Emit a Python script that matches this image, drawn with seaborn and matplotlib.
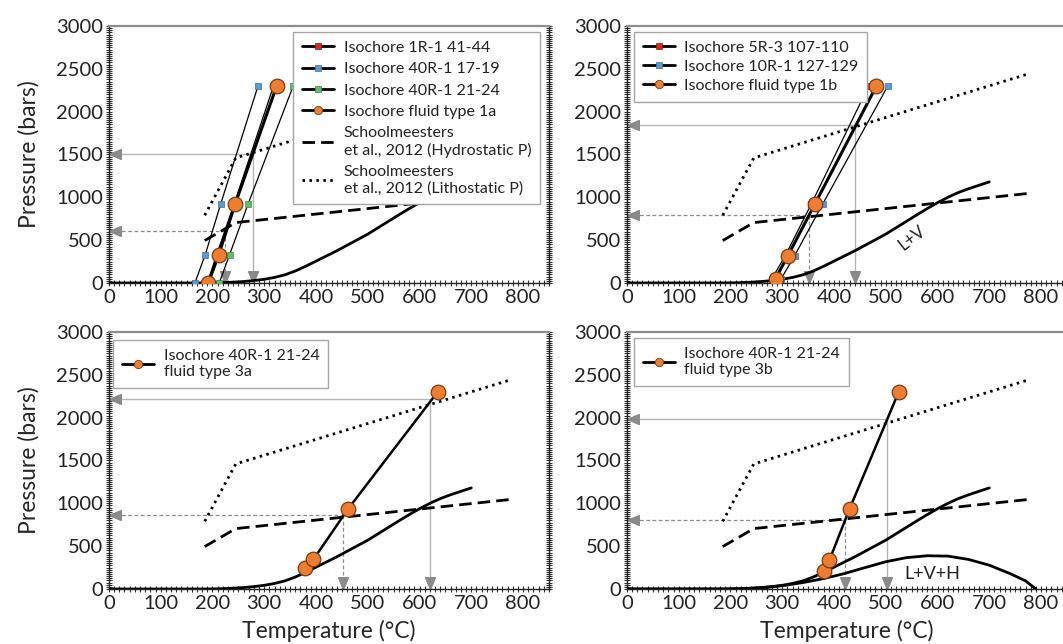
import numpy as np
import pandas as pd
import matplotlib.pyplot as plt
import seaborn as sns
from matplotlib.lines import Line2D
from matplotlib.ticker import MultipleLocator

# shared P-T curves (temperature in C, pressure in bars)
lv_t = [0, 180, 200, 220, 240, 260, 280, 300, 320, 340, 360, 380, 400, 420, 440, 460, 480,
        500, 520, 540, 560, 580, 600, 620, 640, 660, 680, 700]
lv_p = [0, 0, 1, 4, 9, 17, 28, 43, 65, 95, 140, 195, 255, 315, 375, 440, 505,
        570, 645, 720, 795, 868, 937, 1000, 1055, 1100, 1140, 1180]
lvh_t = [0, 180, 220, 260, 300, 340, 380, 420, 460, 500, 540, 580, 620, 660, 700, 740, 770, 790]
lvh_p = [0, 0, 3, 14, 38, 75, 122, 180, 250, 318, 366, 388, 384, 345, 278, 180, 95, 0]
hydro_t = [185, 245, 775]
hydro_p = [495, 705, 1045]
litho_t = [185, 245, 775]
litho_p = [790, 1460, 2440]

# isochores, panel a
iso_1r1_t = [190, 208, 242, 318]
iso_1r1_p = [0, 330, 925, 2300]
iso_40r17_t = [166, 186, 216, 288]
iso_40r17_p = [0, 330, 925, 2300]
iso_40r21_t = [213, 233, 269, 356]
iso_40r21_p = [0, 330, 925, 2300]
iso_1a_t = [192, 212, 244, 324]
iso_1a_p = [0, 330, 925, 2300]
# panel b
iso_5r3_t = [280, 306, 356, 467]
iso_5r3_p = [50, 320, 920, 2300]
iso_10r1_t = [298, 324, 378, 504]
iso_10r1_p = [50, 320, 920, 2300]
iso_1b_t = [287, 311, 363, 482]
iso_1b_p = [50, 320, 920, 2300]
# panels c, d
iso_3a_t = [378, 395, 462, 635]
iso_3a_p = [240, 345, 935, 2300]
iso_3b_t = [380, 391, 430, 525]
iso_3b_p = [215, 335, 935, 2300]

# trapping estimates: (T, P) for lithostatic / hydrostatic
litho_est = [(279, 1500), (440, 1840), (620, 2220), (502, 1990)]
hydro_est = [(225, 610), (351, 790), (452, 860), (422, 800)]

RED, BLUE, GREEN, ORANGE = '#e0261c', '#5b9bd5', '#5fbf6e', '#ed7d31'
EDGE = {RED: '#8a1a12', BLUE: '#3f6f9f', GREEN: '#3e8a4c', ORANGE: '#7a3a0c'}

sns.set_style('white')
plt.rcParams['font.family'] = ['Lato', 'DejaVu Sans']
plt.rcParams['text.color'] = '#222222'

fig = plt.figure(figsize=(10.63, 6.44), dpi=100)
pos = [[0.1025, 0.5606, 0.4139, 0.3991], [0.5898, 0.5606, 0.4139, 0.3991],
       [0.1025, 0.0854, 0.4139, 0.3991], [0.5898, 0.0854, 0.4139, 0.3991]]
axes = [fig.add_axes(p) for p in pos]

head_left = [(0, 0), (1, 0.42), (1, -0.42), (0, 0)]
head_down = [(0, 0), (0.42, 1), (-0.42, 1), (0, 0)]


def line(ax, t, p, **kw):
    sns.lineplot(x=t, y=p, ax=ax, sort=False, estimator=None, **kw)


def isochore(ax, t, p, color, thick=False):
    if color == ORANGE:
        line(ax, t, p, color='black', lw=2.2 if thick else 1.8, marker='o', markersize=10.5,
             markerfacecolor=ORANGE, markeredgecolor=EDGE[ORANGE], markeredgewidth=0.9, zorder=5)
    else:
        line(ax, t, p, color='black', lw=0.9, marker='s', markersize=5,
             markerfacecolor=color, markeredgecolor=EDGE[color], markeredgewidth=0.5, zorder=4)


def arrows(ax, est, solid):
    t, p = est
    if solid:
        kw = dict(color='#b4b4b4', lw=1.0, ls='-')
    else:
        kw = dict(color='#8c8c8c', lw=0.9, ls=(0, (3, 2)))
    ax.plot([0, t], [p, p], zorder=1.5, **kw)
    ax.plot([t, t], [p, 0], zorder=1.5, **kw)
    ax.plot([0], [p], marker=head_left, markersize=17, color='#8a8a8a', lw=0, zorder=1.6, clip_on=False)
    ax.plot([t], [0], marker=head_down, markersize=17, color='#8a8a8a', lw=0, zorder=1.6, clip_on=False)


def base(ax, idx, lvh=False):
    line(ax, lv_t, lv_p, color='black', lw=2.0, zorder=3)
    if lvh:
        line(ax, lvh_t, lvh_p, color='black', lw=2.0, zorder=3)
    line(ax, hydro_t, hydro_p, color='black', lw=2.0, dashes=(4.5, 2.2), zorder=3)
    line(ax, litho_t, litho_p, color='black', lw=2.0, dashes=(0.9, 1.6), zorder=3)
    arrows(ax, litho_est[idx], True)
    arrows(ax, hydro_est[idx], False)


def style(ax, xlabel=False, ylabel=False):
    ax.set_xlim(0, 850)
    ax.set_ylim(0, 3000)
    ax.set_xticks(range(0, 801, 100))
    ax.set_yticks(range(0, 3001, 500))
    ax.xaxis.set_minor_locator(MultipleLocator(10))
    ax.yaxis.set_minor_locator(MultipleLocator(25))
    ax.tick_params(which='both', direction='inout', left=True, right=True, bottom=True, top=False,
                   length=4, width=0.8, color='#333333', labelsize=14.5, labelcolor='#222222', pad=2)
    for s in ['left', 'right', 'bottom']:
        ax.spines[s].set_color('#222222')
        ax.spines[s].set_linewidth(1.0)
    ax.spines['top'].set_color('#8c8c8c')
    ax.spines['top'].set_linewidth(1.6)
    ax.set_xlabel('Temperature (°C)' if xlabel else '', fontsize=16.5, labelpad=6)
    ax.set_ylabel('Pressure (bars)' if ylabel else '', fontsize=16.5, labelpad=12)


def handle(color, ls='-', marker=None):
    if marker == 'o':
        return Line2D([], [], color='black', lw=2, marker='o', markersize=6,
                      markerfacecolor=ORANGE, markeredgecolor=EDGE[ORANGE], markeredgewidth=0.6)
    if marker == 's':
        return Line2D([], [], color='black', lw=2, marker='s', markersize=5,
                      markerfacecolor=color, markeredgecolor=EDGE[color], markeredgewidth=0.5)
    return Line2D([], [], color='black', lw=2, ls=ls)


def legend(ax, handles, labels, loc, anchor, spacing=0.3):
    lg = ax.legend(handles, labels, loc=loc, bbox_to_anchor=anchor, borderaxespad=0,
                   fontsize=11.5, frameon=True, fancybox=False, framealpha=1, edgecolor='#a6a6a6',
                   handlelength=2.0, handletextpad=0.6, labelspacing=spacing, borderpad=0.55)
    lg.get_frame().set_linewidth(1.0)
    lg.set_zorder(10)


# panel a
ax = axes[0]
base(ax, 0)
isochore(ax, iso_40r17_t, iso_40r17_p, BLUE)
isochore(ax, iso_40r21_t, iso_40r21_p, GREEN)
isochore(ax, iso_1r1_t, iso_1r1_p, RED)
isochore(ax, iso_1a_t, iso_1a_p, ORANGE, thick=True)
style(ax, ylabel=True)
legend(ax, [handle(RED, marker='s'), handle(BLUE, marker='s'), handle(GREEN, marker='s'),
            handle(ORANGE, marker='o'), handle(None, ls=(0, (4.5, 2.2))), handle(None, ls=(0, (0.9, 1.6)))],
       ['Isochore 1R-1 41-44', 'Isochore 40R-1 17-19', 'Isochore 40R-1 21-24',
        'Isochore fluid type 1a', 'Schoolmeesters\net al., 2012 (Hydrostatic P)',
        'Schoolmeesters\net al., 2012 (Lithostatic P)'],
       'upper right', (0.98, 0.977), spacing=0.45)

# panel b
ax = axes[1]
base(ax, 1)
isochore(ax, iso_5r3_t, iso_5r3_p, RED)
isochore(ax, iso_10r1_t, iso_10r1_p, BLUE)
isochore(ax, iso_1b_t, iso_1b_p, ORANGE, thick=True)
style(ax)
ax.text(550, 520, 'L+V', rotation=38, fontsize=12, ha='center', va='center')
legend(ax, [handle(RED, marker='s'), handle(BLUE, marker='s'), handle(ORANGE, marker='o')],
       ['Isochore 5R-3 107-110', 'Isochore 10R-1 127-129', 'Isochore fluid type 1b'],
       'upper left', (0.016, 0.977))

# panel c
ax = axes[2]
base(ax, 2)
isochore(ax, iso_3a_t, iso_3a_p, ORANGE)
style(ax, xlabel=True, ylabel=True)
legend(ax, [handle(ORANGE, marker='o')], ['Isochore 40R-1 21-24\nfluid type 3a'],
       'upper left', (0.01, 0.969))

# panel d
ax = axes[3]
base(ax, 3, lvh=True)
isochore(ax, iso_3b_t, iso_3b_p, ORANGE)
style(ax, xlabel=True)
ax.text(590, 170, 'L+V+H', fontsize=13, ha='center', va='center')
legend(ax, [handle(ORANGE, marker='o')], ['Isochore 40R-1 21-24\nfluid type 3b'],
       'upper left', (0.016, 0.977))

fig.savefig('out.png', dpi=100)
